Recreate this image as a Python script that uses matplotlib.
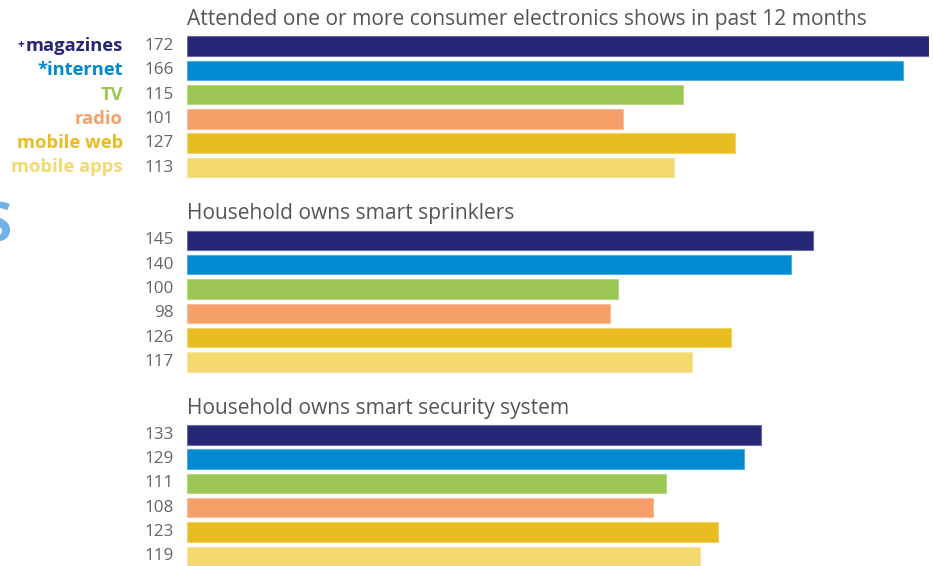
import matplotlib
matplotlib.use("Agg")
import matplotlib.pyplot as plt

# Media channels (one bar per channel within each group)
channels = ["+magazines", "*internet", "TV", "radio", "mobile web", "mobile apps"]
colors = ["#262676", "#0088d0", "#9cc653", "#f79f69", "#e8bd22", "#f3d96e"]
edge_colors = ["#6a6aa8", "#4fb0e4", "#b8d883", "#f9bd98", "#f0d268", "#f7e59f"]

# Index values per group
titles = [
    "Attended one or more consumer electronics shows in past 12 months",
    "Household owns smart sprinklers",
    "Household owns smart security system",
]
electronics_shows = [172, 166, 115, 101, 127, 113]
smart_sprinklers = [145, 140, 100, 98, 126, 117]
smart_security = [133, 129, 111, 108, 123, 119]
groups = [electronics_shows, smart_sprinklers, smart_security]

W, H, DPI = 933, 566, 100
fig = plt.figure(figsize=(W / DPI, H / DPI), dpi=DPI)

x0_px, x1_px = 187, 929
xmax = 172
ax = fig.add_axes([x0_px / W, 0, (x1_px - x0_px) / W, 1])

slot = 24.3          # pixels per bar row
first_center = 46    # pixel of the first bar centre
ax.set_ylim((H - first_center) / slot, -first_center / slot)
ax.set_xlim(0, xmax)
ax.axis("off")

font = "Open Sans"
grey = "#555555"
value_grey = "#666666"

for g, (title, vals) in enumerate(zip(titles, groups)):
    base = g * 8
    ax.text(0, base - 1.1, title, fontsize=15.1, color=grey, family=font,
            ha="left", va="center")
    for i, v in enumerate(vals):
        y = base + i
        ax.barh(y, v, height=0.8, color=colors[i], edgecolor=edge_colors[i],
                linewidth=0.8)
        ax.text(-3.0, y, str(v), fontsize=12.3, color=value_grey, family=font,
                ha="right", va="center")

# Channel legend beside the first group
legend_x = 123 / W
fig.canvas.draw()
renderer = fig.canvas.get_renderer()
for i, name in enumerate(channels):
    y_fig = 1 - (first_center + i * slot) / H
    marker = ""
    if name.startswith("+"):
        marker, name = "+", name[1:]
    t = fig.text(legend_x, y_fig, name, fontsize=13.2, fontweight="bold",
                 color=colors[i], family=font, ha="right", va="center")
    if marker:
        bb = t.get_window_extent(renderer=renderer)
        fig.text((bb.x0 - 1) / W, y_fig + 1.5 / H, marker, fontsize=8.5,
                 fontweight="bold", color=colors[i], family=font,
                 ha="right", va="center")

# Edge of a large heading cut off at the left margin
fig.text(-17 / W, 1 - 228 / H, "S", fontsize=38, fontweight="bold",
         color="#6db3e8", family=font, ha="left", va="center")

fig.savefig("out.png", dpi=DPI)
